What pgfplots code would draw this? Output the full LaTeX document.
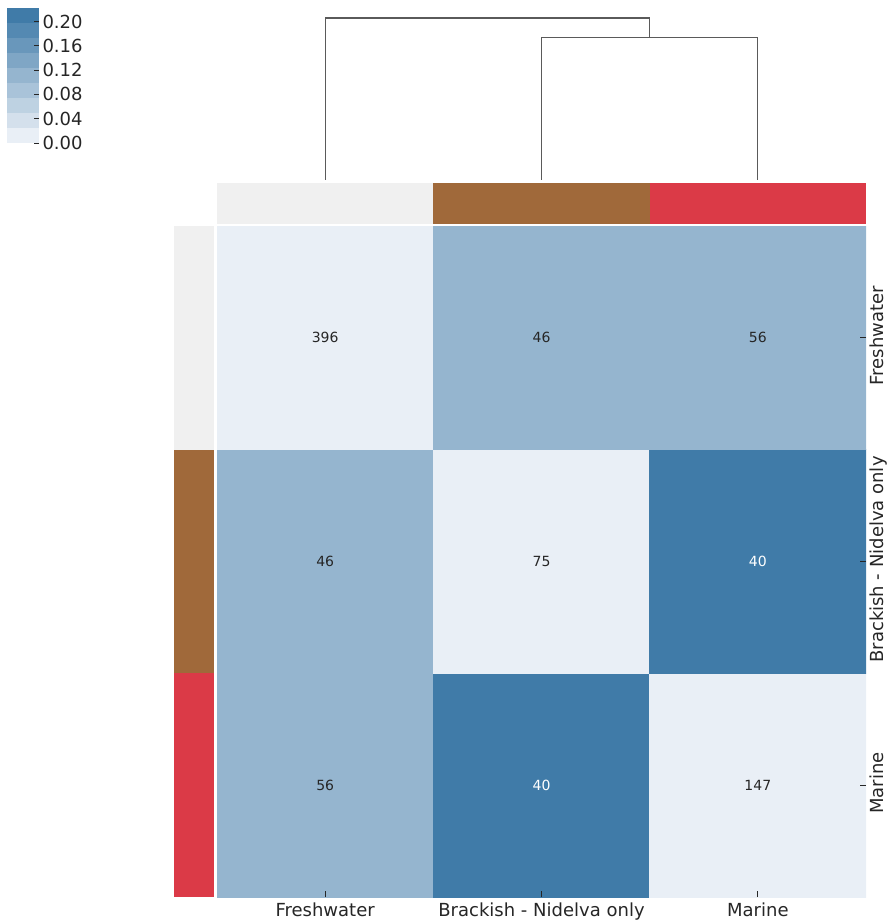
\documentclass[border=0pt]{standalone}
\usepackage{pgfplots}
\pgfplotsset{compat=1.18}
\usepackage{fontspec}
\setmainfont{DejaVu Sans}
\definecolor{cb0}{RGB}{233,239,246}
\definecolor{cb1}{RGB}{212,224,236}
\definecolor{cb2}{RGB}{190,210,226}
\definecolor{cb3}{RGB}{169,195,217}
\definecolor{cb4}{RGB}{149,181,207}
\definecolor{cb5}{RGB}{127,166,197}
\definecolor{cb6}{RGB}{105,151,187}
\definecolor{cb7}{RGB}{84,137,178}
\definecolor{cb8}{RGB}{64,123,168}
\definecolor{sfresh}{RGB}{240,240,240}
\definecolor{sbrack}{RGB}{160,105,58}
\definecolor{smarine}{RGB}{219,58,71}
\definecolor{dgray}{RGB}{90,90,90}
\definecolor{txt}{RGB}{38,38,38}
\newcommand{\lab}{\fontsize{18}{21}\selectfont}
\newcommand{\ann}{\fontsize{14}{16}\selectfont}
\begin{document}
\begin{tikzpicture}
\path[use as bounding box] (0,0) rectangle (889pt,-923pt);

% ---------- dendrogram ----------
\begin{axis}[at={(217pt,0pt)}, anchor=north west, scale only axis,
  width=649pt, height=180pt, xmin=-0.5, xmax=2.5, ymin=0, ymax=1,
  hide axis, clip=false]
\addplot[dgray, line width=1.3pt] coordinates {(1,0) (1,0.79) (2,0.79) (2,0)};
\addplot[dgray, line width=1.3pt] coordinates {(0,0) (0,0.90) (1.5,0.90) (1.5,0.79)};
\end{axis}

% ---------- top colour strip ----------
\begin{axis}[at={(217pt,-182.5pt)}, anchor=north west, scale only axis,
  width=649pt, height=41pt, xmin=-0.5, xmax=2.5, ymin=0, ymax=1, hide axis]
\addplot[fill=sfresh, draw=none] coordinates {(-0.5,0) (0.5,0) (0.5,1) (-0.5,1)} -- cycle;
\addplot[fill=sbrack, draw=none] coordinates {(0.5,0) (1.5,0) (1.5,1) (0.5,1)} -- cycle;
\addplot[fill=smarine, draw=none] coordinates {(1.5,0) (2.5,0) (2.5,1) (1.5,1)} -- cycle;
\end{axis}

% ---------- left colour strip ----------
\begin{axis}[at={(173.5pt,-226pt)}, anchor=north west, scale only axis,
  width=40.5pt, height=671pt, xmin=0, xmax=1, ymin=-0.5, ymax=2.5, hide axis]
\addplot[fill=sfresh, draw=none] coordinates {(0,1.5) (1,1.5) (1,2.5) (0,2.5)} -- cycle;
\addplot[fill=sbrack, draw=none] coordinates {(0,0.5) (1,0.5) (1,1.5) (0,1.5)} -- cycle;
\addplot[fill=smarine, draw=none] coordinates {(0,-0.5) (1,-0.5) (1,0.5) (0,0.5)} -- cycle;
\end{axis}

% ---------- heatmap ----------
\begin{axis}[at={(217pt,-226pt)}, anchor=north west, scale only axis,
  width=649pt, height=671pt, xmin=-0.5, xmax=2.5, ymin=-0.5, ymax=2.5,
  enlargelimits=false, axis line style={draw=none}, axis on top,
  colormap={heat}{color=(cb0) color=(cb1) color=(cb2) color=(cb3) color=(cb4) color=(cb5) color=(cb6) color=(cb7) color=(cb8) color=(cb8)},
  colormap access=piecewise constant,
  point meta min=0, point meta max=0.2215,
  xtick={0,1,2}, ytick={0,1,2},
  xticklabels={Freshwater,Brackish - Nidelva only,Marine},
  yticklabels={Marine,Brackish - Nidelva only,Freshwater},
  xtick pos=left, ytick pos=right, yticklabel pos=right,
  tick align=inside, major tick length=6pt,
  tick style={color=txt, line width=0.9pt},
  xticklabel style={font=\lab, text=txt, yshift=-2pt},
  yticklabel style={font=\lab, text=txt, rotate=90, anchor=north, xshift=2pt},
]
\addplot[matrix plot*, mesh/cols=3, point meta=explicit] table[meta=c] {
x y c
0 0 0.102
1 0 0.200
2 0 0.003
0 1 0.102
1 1 0.003
2 1 0.200
0 2 0.003
1 2 0.102
2 2 0.102
};
\addplot[draw=none, mark=none, nodes near coords, point meta=explicit symbolic,
  every node near coord/.append style={anchor=center, font=\ann, text=txt}]
  table[meta=lab] {
x y lab
0 0 56
2 0 147
0 1 46
1 1 75
0 2 396
1 2 46
2 2 56
};
\addplot[draw=none, mark=none, nodes near coords, point meta=explicit symbolic,
  every node near coord/.append style={anchor=center, font=\ann, text=white}]
  table[meta=lab] {
x y lab
1 0 40
2 1 40
};
\end{axis}

% ---------- colour bar ----------
\begin{axis}[at={(7pt,-8.5pt)}, anchor=north west, scale only axis,
  width=32pt, height=134.5pt, xmin=0, xmax=1, ymin=0, ymax=0.2215,
  enlargelimits=false, axis line style={draw=none}, axis on top,
  xtick=\empty, ytick={0,0.04,0.08,0.12,0.16,0.20},
  yticklabels={0.00,0.04,0.08,0.12,0.16,0.20},
  ytick pos=right, yticklabel pos=right,
  tick align=inside, major tick length=5pt,
  tick style={color=txt, line width=0.9pt},
  yticklabel style={font=\lab, text=txt},
]
\addplot[fill=cb0, draw=none] coordinates {(0,0) (1,0) (1,0.0246) (0,0.0246)} -- cycle;
\addplot[fill=cb1, draw=none] coordinates {(0,0.0246) (1,0.0246) (1,0.0492) (0,0.0492)} -- cycle;
\addplot[fill=cb2, draw=none] coordinates {(0,0.0492) (1,0.0492) (1,0.0738) (0,0.0738)} -- cycle;
\addplot[fill=cb3, draw=none] coordinates {(0,0.0738) (1,0.0738) (1,0.0984) (0,0.0984)} -- cycle;
\addplot[fill=cb4, draw=none] coordinates {(0,0.0984) (1,0.0984) (1,0.1231) (0,0.1231)} -- cycle;
\addplot[fill=cb5, draw=none] coordinates {(0,0.1231) (1,0.1231) (1,0.1477) (0,0.1477)} -- cycle;
\addplot[fill=cb6, draw=none] coordinates {(0,0.1477) (1,0.1477) (1,0.1723) (0,0.1723)} -- cycle;
\addplot[fill=cb7, draw=none] coordinates {(0,0.1723) (1,0.1723) (1,0.1969) (0,0.1969)} -- cycle;
\addplot[fill=cb8, draw=none] coordinates {(0,0.1969) (1,0.1969) (1,0.2215) (0,0.2215)} -- cycle;
\end{axis}
\end{tikzpicture}
\end{document}
